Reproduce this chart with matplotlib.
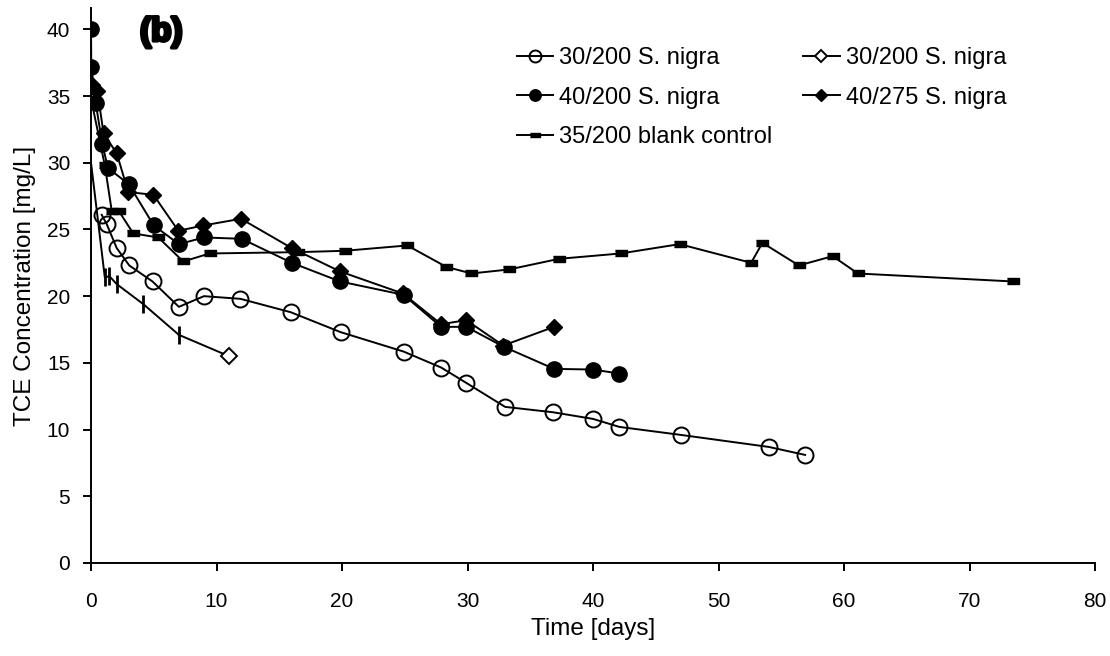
import matplotlib
matplotlib.use('Agg')
import matplotlib.pyplot as plt
import matplotlib.patheffects as pe
import numpy as np

plt.rcParams['font.family'] = ['Liberation Sans', 'DejaVu Sans']

# 30/200 S. nigra (open circles)
t_a = [0.85, 1.25, 2.05, 3.05, 4.9, 7.0, 9.0, 11.9, 15.9, 19.9, 24.9, 27.9, 29.9, 33.0, 36.8, 40.0, 42.1, 47.0, 54.0, 56.9]
c_a = [26.1, 25.4, 23.6, 22.3, 21.1, 19.2, 20.0, 19.8, 18.8, 17.3, 15.85, 14.65, 13.5, 11.7, 11.3, 10.8, 10.2, 9.6, 8.7, 8.1]

# 30/200 S. nigra (second replicate, tick marks + open diamond at end)
t_b = [0, 1.1, 1.46, 2.05, 4.17, 7.0, 11.0]
c_b = [30.0, 21.4, 21.5, 20.9, 19.4, 17.1, 15.5]

# 40/200 S. nigra (filled circles)
t_c = [0, 0.02, 0.37, 0.9, 1.35, 3.0, 5.0, 7.0, 9.0, 12.0, 16.0, 19.85, 24.9, 27.9, 29.9, 32.9, 36.9, 40.0, 42.1]
c_c = [40.0, 37.2, 34.5, 31.4, 29.6, 28.4, 25.3, 23.9, 24.4, 24.3, 22.5, 21.1, 20.1, 17.7, 17.7, 16.2, 14.55, 14.5, 14.2]

# 40/275 S. nigra (filled diamonds)
t_d = [0.1, 0.5, 1.0, 2.05, 2.97, 4.97, 6.96, 8.95, 11.95, 16.0, 19.85, 24.85, 27.9, 29.9, 32.85, 36.9]
c_d = [35.8, 35.4, 32.2, 30.7, 27.8, 27.6, 24.9, 25.3, 25.8, 23.6, 21.85, 20.2, 17.9, 18.2, 16.3, 17.7]

# 35/200 blank control
t_e = [0, 1.1, 1.65, 2.2, 3.37, 5.36, 7.35, 9.45, 16.5, 20.2, 25.2, 28.3, 30.3, 33.3, 37.3, 42.2, 46.9, 52.6, 53.5, 56.4, 59.1, 61.1, 73.5]
c_e = [34.8, 29.8, 26.4, 26.4, 24.7, 24.4, 22.6, 23.2, 23.3, 23.4, 23.8, 22.2, 21.7, 22.0, 22.8, 23.2, 23.9, 22.5, 24.0, 22.3, 23.0, 21.7, 21.1]

fig = plt.figure(figsize=(11.1, 6.56), dpi=100)
ax = fig.add_axes([0.082, 0.1418, 0.9045, 0.846])

lw = 1.4
rect = [(-1, -0.45), (1, -0.45), (1, 0.45), (-1, 0.45)]

ax.plot(t_e, c_e, color='black', lw=lw, marker=rect, ms=9, mfc='black', mec='black',
        label='35/200 blank control', zorder=2)
ax.plot(t_a, c_a, color='black', lw=lw, marker='o', ms=11.5, mfc='none', mec='black', mew=1.4,
        label='30/200 S. nigra', zorder=3)
ax.plot(t_b[:-1], c_b[:-1], color='black', lw=lw, marker='|', ms=13, mew=2,
        markevery=list(range(1, len(t_b) - 1)), zorder=3)
ax.plot(t_b[-2:], c_b[-2:], color='black', lw=lw, zorder=3)
ax.plot(t_b[-1:], c_b[-1:], color='black', lw=lw, marker='D', ms=8.5, mfc='white', mec='black', mew=1.4,
        label='30/200 S. nigra ', zorder=3)
ax.plot(t_c, c_c, color='black', lw=lw, marker='o', ms=11, mfc='black', mec='black',
        label='40/200 S. nigra', zorder=3)
ax.plot(t_d, c_d, color='black', lw=lw, marker='D', ms=8, mfc='black', mec='black',
        label='40/275 S. nigra', zorder=3)

ax.set_xlim(0, 80)
ax.set_ylim(0, 41.6)
ax.set_xticks(np.arange(0, 81, 10))
ax.set_yticks(np.arange(0, 41, 5))
ax.spines['top'].set_visible(False)
ax.spines['right'].set_visible(False)
ax.spines['left'].set_linewidth(1.4)
ax.spines['bottom'].set_linewidth(1.4)
ax.tick_params(direction='out', length=6, width=1.4, labelsize=15)
ax.tick_params(axis='x', pad=15)
ax.tick_params(axis='y', pad=9)
ax.set_xlabel('Time [days]', fontsize=17.5, labelpad=5)
ax.set_ylabel('TCE Concentration [mg/L]', fontsize=17.5, labelpad=8)

ax.text(0.0488, 0.984, '(b)', transform=ax.transAxes, fontsize=24, fontweight='bold',
        ha='left', va='top', path_effects=[pe.withStroke(linewidth=2.5, foreground='black')])

handles, labels = ax.get_legend_handles_labels()
order = [1, 3, 0, 2, 4]
ax.legend([handles[i] for i in order], [labels[i] for i in order], ncol=2,
          loc='upper left', bbox_to_anchor=(0.424, 0.93), frameon=False, fontsize=17,
          handlelength=1.55, handletextpad=0.25, columnspacing=1.3, labelspacing=0.75,
          borderpad=0, borderaxespad=0, markerscale=0.75)

fig.savefig('out.png', dpi=100)
